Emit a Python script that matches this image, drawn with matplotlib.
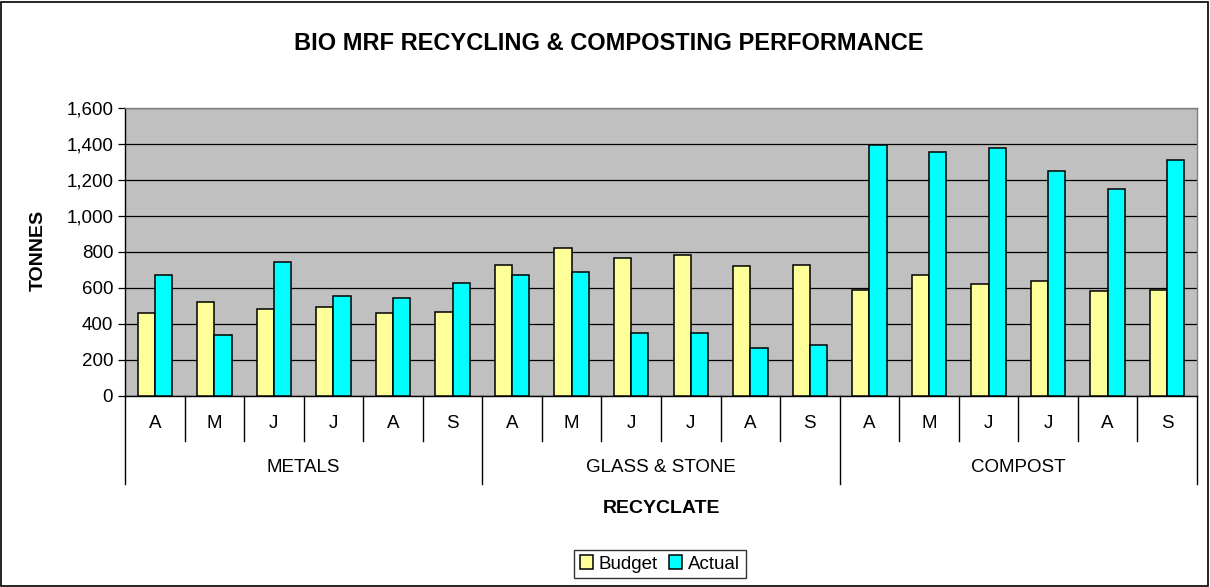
import numpy as np
import matplotlib
matplotlib.use("Agg")
import matplotlib.pyplot as plt
from matplotlib.patches import Rectangle
import matplotlib.transforms as mtransforms

groups = ["METALS", "GLASS & STONE", "COMPOST"]
months = ["A", "M", "J", "J", "A", "S"]

budget = [460, 520, 485, 492, 460, 467,
          728, 822, 765, 781, 720, 728,
          591, 674, 620, 637, 585, 591]
actual = [675, 341, 746, 557, 546, 628,
          674, 691, 350, 350, 269, 285,
          1396, 1357, 1378, 1252, 1152, 1313]

yticks = [0, 200, 400, 600, 800, 1000, 1200, 1400, 1600]


def main():
	plt.rcParams['font.family'] = ['Liberation Sans', 'DejaVu Sans']

	fig = plt.figure(figsize=(12.1, 5.87), dpi=100)
	ax = fig.add_axes([125/1210, 1 - 396/587, (1197 - 125)/1210, 288/587])

	n = len(budget)
	x = np.arange(n)
	w = 0.29
	ax.set_facecolor("#C0C0C0")
	ax.bar(x - w/2, budget, w, color="#FFFF99", edgecolor="black", linewidth=1.1, label="Budget", zorder=3)
	ax.bar(x + w/2, actual, w, color="#00FFFF", edgecolor="black", linewidth=1.1, label="Actual", zorder=3)

	ax.set_xlim(-0.5, n - 0.5)
	ax.set_ylim(0, 1600)
	ax.set_yticks(yticks)
	ax.set_yticklabels(["{:,}".format(v) for v in yticks], fontsize=13.5)
	ax.yaxis.grid(True, color="black", linewidth=0.9, zorder=1)
	ax.set_axisbelow(True)
	ax.tick_params(axis="y", length=5, width=0.9, color="black")
	ax.set_xticks([])

	ax.spines["top"].set_color("#808080")
	ax.spines["right"].set_color("#808080")
	ax.spines["left"].set_color("black")
	ax.spines["bottom"].set_color("black")
	for s in ax.spines.values():
		s.set_linewidth(1.0)

	## category axis (two levels)
	trans = mtransforms.blended_transform_factory(ax.transData, ax.transAxes)
	for i in range(n):
		ax.text(i, -0.097, months[i % 6], transform=trans, ha="center", va="center", fontsize=13.5)
	for i in range(n + 1):
		if i % 6 == 0:
			y_end = -0.306
		else:
			y_end = -0.156
		ax.plot([i - 0.5, i - 0.5], [0, y_end], transform=trans, color="black", linewidth=1.0, clip_on=False)
	for g in range(len(groups)):
		ax.text(g*6 + 2.5, -0.25, groups[g], transform=trans, ha="center", va="center", fontsize=13.5)

	ax.text(0.5, -0.389, "RECYCLATE", transform=ax.transAxes, ha="center", va="center", fontsize=14, fontweight="bold")
	fig.text(38/1210, 1 - 250/587, "TONNES", rotation=90, ha="center", va="center", fontsize=14, fontweight="bold")
	fig.text(609/1210, 1 - 43/587, "BIO MRF RECYCLING & COMPOSTING PERFORMANCE", ha="center", va="center", fontsize=17, fontweight="bold")

	leg = fig.legend(loc="center", bbox_to_anchor=(660/1210, 1 - 564/587), ncol=2, fontsize=13.5,
		frameon=True, fancybox=False, edgecolor="black", handlelength=0.7, handleheight=0.7,
		handletextpad=0.3, columnspacing=0.6, borderpad=0.3, borderaxespad=0)
	leg.get_frame().set_linewidth(1.0)

	## outer chart border
	fig.patches.append(Rectangle((1/1210, 1/587), 1207/1210, 584/587, transform=fig.transFigure,
		fill=False, edgecolor="black", linewidth=1.2))

	fig.savefig("out.png", dpi=100)


if __name__ == "__main__":
	main()
